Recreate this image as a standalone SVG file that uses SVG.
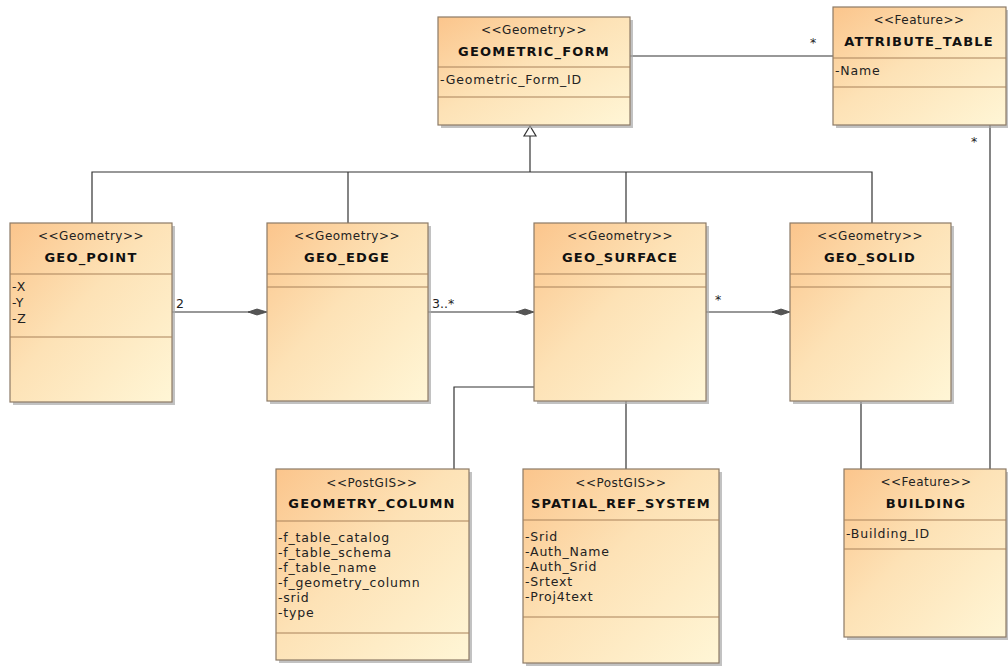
<svg xmlns="http://www.w3.org/2000/svg" width="1008" height="666" viewBox="0 0 1008 666">
<defs>
<linearGradient id="fillG" x1="0" y1="0" x2="1" y2="1">
<stop offset="0" stop-color="#fbc58c"/>
<stop offset="0.45" stop-color="#fde2b6"/>
<stop offset="1" stop-color="#fff6d6"/>
</linearGradient>
<style>
.box{fill:url(#fillG);stroke:#8c7a66;stroke-width:1.2}
.sh{fill:#a8a8a8;opacity:0.7}
.dv{stroke:#a9825a;stroke-width:1}
.st{font-family:"DejaVu Sans",sans-serif;font-size:12px;letter-spacing:0.5px;text-anchor:middle;fill:#222}
.nm{font-family:"DejaVu Sans",sans-serif;font-size:13px;font-weight:bold;letter-spacing:1.2px;text-anchor:middle;fill:#111}
.at{font-family:"DejaVu Sans",sans-serif;font-size:12.5px;letter-spacing:0.8px;fill:#222}
.lb{font-family:"DejaVu Sans",sans-serif;font-size:12.5px;fill:#222}
.ln{stroke:#333;stroke-width:1.2;fill:none}
.dm{fill:#555;stroke:#444;stroke-width:0.8}
.tri{fill:#fff;stroke:#333;stroke-width:1.2}
</style>
</defs>
<rect width="1008" height="666" fill="#fff"/>

<g id="connectors">
<polyline class="ln" points="530,135 530,172"/>
<polyline class="ln" points="92,223 92,172 872,172 872,223"/>
<line class="ln" x1="348" y1="172" x2="348" y2="223"/>
<line class="ln" x1="626" y1="172" x2="626" y2="223"/>
<polygon class="tri" points="530,126 524,136 536,136"/>
<line class="ln" x1="630" y1="56" x2="833" y2="56"/>
<text class="lb" x="810" y="47">*</text>
<line class="ln" x1="990" y1="125" x2="990" y2="469"/>
<text class="lb" x="971" y="146">*</text>
<line class="ln" x1="172" y1="312" x2="250" y2="312"/>
<polygon class="dm" points="248,312 257,309 267,312 257,315"/>
<text class="lb" x="176" y="308">2</text>
<line class="ln" x1="428" y1="312" x2="518" y2="312"/>
<polygon class="dm" points="516,312 525,309 534,312 525,315"/>
<text class="lb" x="432" y="308">3..*</text>
<line class="ln" x1="706" y1="312" x2="774" y2="312"/>
<polygon class="dm" points="772,312 781,309 790,312 781,315"/>
<text class="lb" x="715" y="304">*</text>
<polyline class="ln" points="534,387 454,387 454,469"/>
<line class="ln" x1="626" y1="401" x2="626" y2="469"/>
<line class="ln" x1="861" y1="402" x2="861" y2="469"/>
</g>

<g id="GEOMETRIC_FORM">
<rect class="sh" x="441" y="20" width="192" height="108"/>
<rect class="box" x="438" y="17" width="192" height="108"/>
<line class="dv" x1="438" y1="67" x2="630" y2="67"/>
<line class="dv" x1="438" y1="97" x2="630" y2="97"/>
<text class="st" x="534" y="34">&lt;&lt;Geometry&gt;&gt;</text>
<text class="nm" x="534" y="56">GEOMETRIC_FORM</text>
<text class="at" x="440" y="84">-Geometric_Form_ID</text>
</g>

<g id="ATTRIBUTE_TABLE">
<rect class="sh" x="836" y="10" width="173" height="118"/>
<rect class="box" x="833" y="7" width="173" height="118"/>
<line class="dv" x1="833" y1="58" x2="1006" y2="58"/>
<line class="dv" x1="833" y1="87" x2="1006" y2="87"/>
<text class="st" x="919" y="24">&lt;&lt;Feature&gt;&gt;</text>
<text class="nm" x="919" y="46">ATTRIBUTE_TABLE</text>
<text class="at" x="835" y="75">-Name</text>
</g>

<g id="GEO_POINT">
<rect class="sh" x="13" y="226" width="162" height="179"/>
<rect class="box" x="10" y="223" width="162" height="179"/>
<line class="dv" x1="10" y1="274" x2="172" y2="274"/>
<line class="dv" x1="10" y1="337" x2="172" y2="337"/>
<text class="st" x="91" y="240">&lt;&lt;Geometry&gt;&gt;</text>
<text class="nm" x="91" y="262">GEO_POINT</text>
<text class="at" x="12" y="291">-X</text>
<text class="at" x="12" y="307">-Y</text>
<text class="at" x="12" y="323">-Z</text>
</g>

<g id="GEO_EDGE">
<rect class="sh" x="270" y="226" width="161" height="178"/>
<rect class="box" x="267" y="223" width="161" height="178"/>
<line class="dv" x1="267" y1="274" x2="428" y2="274"/>
<line class="dv" x1="267" y1="287" x2="428" y2="287"/>
<text class="st" x="347" y="240">&lt;&lt;Geometry&gt;&gt;</text>
<text class="nm" x="347" y="262">GEO_EDGE</text>
</g>

<g id="GEO_SURFACE">
<rect class="sh" x="537" y="226" width="172" height="178"/>
<rect class="box" x="534" y="223" width="172" height="178"/>
<line class="dv" x1="534" y1="274" x2="706" y2="274"/>
<line class="dv" x1="534" y1="287" x2="706" y2="287"/>
<text class="st" x="620" y="240">&lt;&lt;Geometry&gt;&gt;</text>
<text class="nm" x="620" y="262">GEO_SURFACE</text>
</g>

<g id="GEO_SOLID">
<rect class="sh" x="793" y="226" width="161" height="178"/>
<rect class="box" x="790" y="223" width="161" height="178"/>
<line class="dv" x1="790" y1="274" x2="951" y2="274"/>
<line class="dv" x1="790" y1="287" x2="951" y2="287"/>
<text class="st" x="870" y="240">&lt;&lt;Geometry&gt;&gt;</text>
<text class="nm" x="870" y="262">GEO_SOLID</text>
</g>

<g id="GEOMETRY_COLUMN">
<rect class="sh" x="279" y="472" width="193" height="191"/>
<rect class="box" x="276" y="469" width="193" height="191"/>
<line class="dv" x1="276" y1="521" x2="469" y2="521"/>
<line class="dv" x1="276" y1="633" x2="469" y2="633"/>
<text class="st" x="372" y="487">&lt;&lt;PostGIS&gt;&gt;</text>
<text class="nm" x="372" y="508">GEOMETRY_COLUMN</text>
<text class="at" x="278" y="542">-f_table_catalog</text>
<text class="at" x="278" y="557">-f_table_schema</text>
<text class="at" x="278" y="572">-f_table_name</text>
<text class="at" x="278" y="587">-f_geometry_column</text>
<text class="at" x="278" y="602">-srid</text>
<text class="at" x="278" y="617">-type</text>
</g>

<g id="SPATIAL_REF_SYSTEM">
<rect class="sh" x="526" y="472" width="196" height="194"/>
<rect class="box" x="523" y="469" width="196" height="194"/>
<line class="dv" x1="523" y1="520" x2="719" y2="520"/>
<line class="dv" x1="523" y1="617" x2="719" y2="617"/>
<text class="st" x="621" y="487">&lt;&lt;PostGIS&gt;&gt;</text>
<text class="nm" x="621" y="508">SPATIAL_REF_SYSTEM</text>
<text class="at" x="525" y="541">-Srid</text>
<text class="at" x="525" y="556">-Auth_Name</text>
<text class="at" x="525" y="571">-Auth_Srid</text>
<text class="at" x="525" y="586">-Srtext</text>
<text class="at" x="525" y="601">-Proj4text</text>
</g>

<g id="BUILDING">
<rect class="sh" x="847" y="472" width="162" height="168"/>
<rect class="box" x="844" y="469" width="162" height="168"/>
<line class="dv" x1="844" y1="520" x2="1006" y2="520"/>
<line class="dv" x1="844" y1="549" x2="1006" y2="549"/>
<text class="st" x="926" y="486">&lt;&lt;Feature&gt;&gt;</text>
<text class="nm" x="926" y="508">BUILDING</text>
<text class="at" x="846" y="538">-Building_ID</text>
</g>
</svg>
